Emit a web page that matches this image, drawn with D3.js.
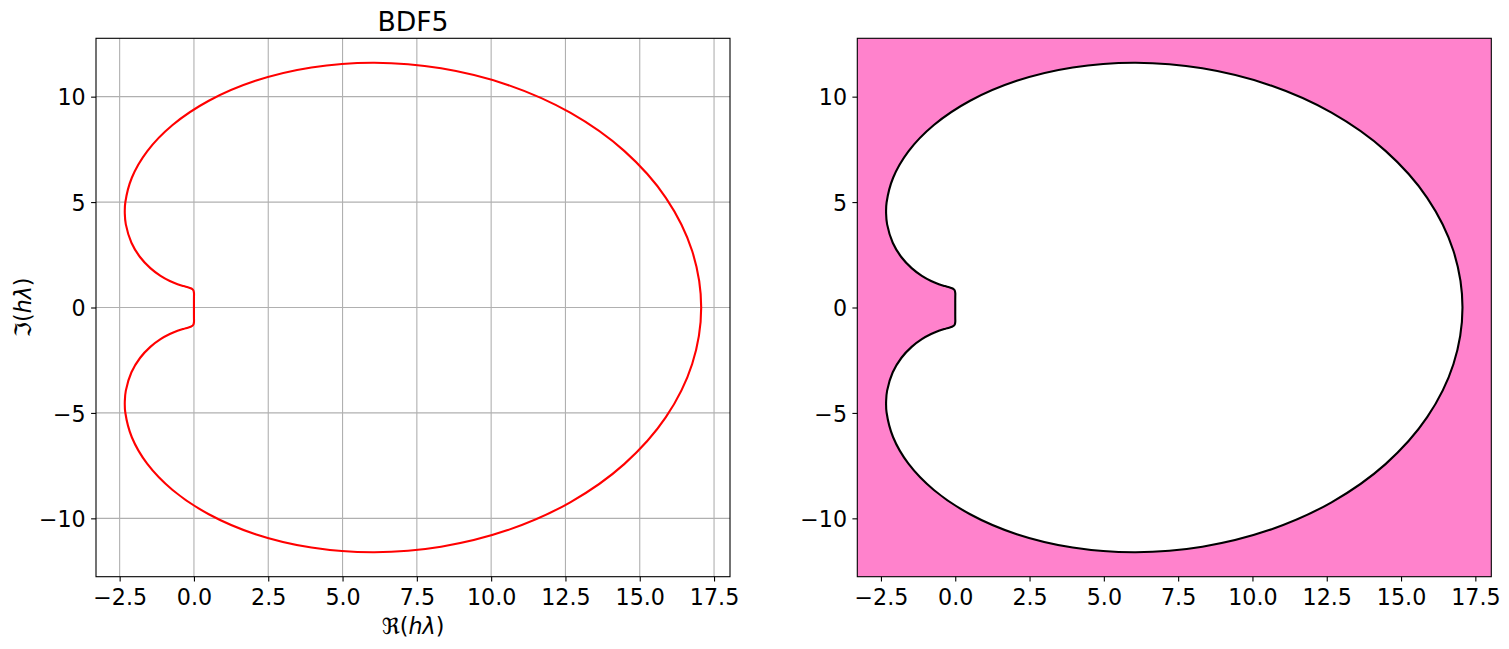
<!DOCTYPE html>
<html>
<head>
<meta charset="utf-8">
<script src="https://cdn.jsdelivr.net/npm/d3@7"></script>
<style>
  html, body { margin: 0; padding: 0; background: #ffffff; }
  svg { display: block; }
  text { font-family: "DejaVu Sans", sans-serif; fill: #000; }
</style>
</head>
<body>
<svg id="chart" width="1509" height="649"></svg>
<script>
// Boundary locus of BDF5 stability region, closed loop
const reBoundary = [
  17.067, 16.764, 15.879, 14.477, 12.661, 10.560, 8.315, 6.070, 3.953, 2.070,
  0.500, -0.719, -1.575, -2.090, -2.310, -2.326, -2.292, -2.103, -1.809, -1.467,
  -1.124, -0.812, -0.552, -0.350, -0.205, -0.108, -0.050, -0.018, 0.001, 0.001,
  0.000, 0.000, 0.000,
  0.000, 0.000, 0.001, 0.001, -0.018, -0.050, -0.108, -0.205, -0.350, -0.552,
  -0.812, -1.124, -1.467, -1.809, -2.103, -2.292, -2.326, -2.310, -2.090, -1.575,
  -0.719, 0.500, 2.070, 3.953, 6.070, 8.315, 10.560, 12.661, 14.477, 15.879, 16.764
];
const imBoundary = [
  0.000, 2.679, 5.202, 7.427, 9.239, 10.558, 11.346, 11.607, 11.384, 10.751,
  9.805, 8.654, 7.405, 6.153, 4.980, 4.441, 3.942, 3.072, 2.383, 1.867,
  1.502, 1.259, 1.107, 1.014, 0.955, 0.909, 0.864, 0.812, 0.681, 0.521,
  0.349, 0.175, 0.000,
  -0.175, -0.349, -0.521, -0.681, -0.812, -0.864, -0.909, -0.955, -1.014, -1.107,
  -1.259, -1.502, -1.867, -2.383, -3.072, -3.942, -4.441, -4.980, -6.153, -7.405,
  -8.654, -9.805, -10.751, -11.384, -11.607, -11.346, -10.558, -9.239, -7.427, -5.202, -2.679
];
const xTickValues = [-2.5, 0, 2.5, 5, 7.5, 10, 12.5, 15, 17.5];
const xTickLabels = ["\u22122.5", "0.0", "2.5", "5.0", "7.5", "10.0", "12.5", "15.0", "17.5"];
const yTickValues = [-10, -5, 0, 5, 10];
const yTickLabels = ["\u221210", "\u22125", "0", "5", "10"];
const titleText = "BDF5";

const svg = d3.select("#chart");
const pts = reBoundary.map((x, i) => [x, imBoundary[i]]);

const xExt = d3.extent(reBoundary), yExt = d3.extent(imBoundary);
const xm = (xExt[1] - xExt[0]) * 0.05, ym = (yExt[1] - yExt[0]) * 0.05;
const xDomain = [xExt[0] - xm, xExt[1] + xm];
const yDomain = [yExt[0] - ym, yExt[1] + ym];

const axTop = 38.3, axBottom = 576.7;
const panels = [
  { x0: 96, x1: 730, left: true },
  { x0: 857.3, x1: 1491.3, left: false }
];

const FS = 22.2;

panels.forEach(p => {
  const x = d3.scaleLinear().domain(xDomain).range([p.x0, p.x1]);
  const y = d3.scaleLinear().domain(yDomain).range([axBottom, axTop]);
  const g = svg.append("g");
  const line = d3.line().x(d => x(d[0])).y(d => y(d[1])).curve(d3.curveCatmullRomClosed.alpha(0.5));

  if (p.left) {
    g.append("g").selectAll("line").data(xTickValues).join("line")
      .attr("x1", d => x(d)).attr("x2", d => x(d)).attr("y1", axTop).attr("y2", axBottom)
      .attr("stroke", "#b0b0b0").attr("stroke-width", 1.1);
    g.append("g").selectAll("line").data(yTickValues).join("line")
      .attr("y1", d => y(d)).attr("y2", d => y(d)).attr("x1", p.x0).attr("x2", p.x1)
      .attr("stroke", "#b0b0b0").attr("stroke-width", 1.1);
    g.append("path").attr("d", line(pts)).attr("fill", "none")
      .attr("stroke", "#ff0000").attr("stroke-width", 2.1).attr("stroke-linejoin", "round");
  } else {
    g.append("rect").attr("x", p.x0).attr("y", axTop).attr("width", p.x1 - p.x0).attr("height", axBottom - axTop)
      .attr("fill", "#ff82cc");
    g.append("path").attr("d", line(pts)).attr("fill", "#ffffff")
      .attr("stroke", "#000000").attr("stroke-width", 2.1).attr("stroke-linejoin", "round");
  }

  const xAxis = d3.axisBottom(x).tickValues(xTickValues)
    .tickFormat((d, i) => xTickLabels[i]).tickSize(4.9).tickSizeOuter(0).tickPadding(8.1);
  const yAxis = d3.axisLeft(y).tickValues(yTickValues)
    .tickFormat((d, i) => yTickLabels[i]).tickSize(4.9).tickSizeOuter(0).tickPadding(5.4);
  const gx = g.append("g").attr("transform", `translate(0,${axBottom})`).call(xAxis);
  const gy = g.append("g").attr("transform", `translate(${p.x0},0)`).call(yAxis);
  [gx, gy].forEach(a => {
    a.select(".domain").remove();
    a.selectAll(".tick line").attr("stroke", "#000").attr("stroke-width", 1.1);
    a.selectAll(".tick text").attr("font-size", FS).attr("font-family", "DejaVu Sans").attr("fill", "#000");
  });
  gy.selectAll(".tick text").attr("dy", "0.37em");

  g.append("rect").attr("x", p.x0).attr("y", axTop).attr("width", p.x1 - p.x0).attr("height", axBottom - axTop)
    .attr("fill", "none").attr("stroke", "#000").attr("stroke-width", 1.1);

  if (p.left) {
    const cx = (p.x0 + p.x1) / 2;
    svg.append("text").attr("x", cx).attr("y", 31).attr("text-anchor", "middle")
      .attr("font-size", 26.7).text(titleText);
    const xl = svg.append("text").attr("x", cx).attr("y", 634).attr("text-anchor", "middle")
      .attr("font-size", FS);
    xl.append("tspan").text("\u211C(");
    xl.append("tspan").attr("font-style", "italic").text("h\u03BB");
    xl.append("tspan").text(")");
    const yl = svg.append("text").attr("transform", `translate(30.5,${(axTop + axBottom) / 2}) rotate(-90)`)
      .attr("text-anchor", "middle").attr("font-size", FS);
    yl.append("tspan").text("\u2111(");
    yl.append("tspan").attr("font-style", "italic").text("h\u03BB");
    yl.append("tspan").text(")");
  }
});
</script>
</body>
</html>
